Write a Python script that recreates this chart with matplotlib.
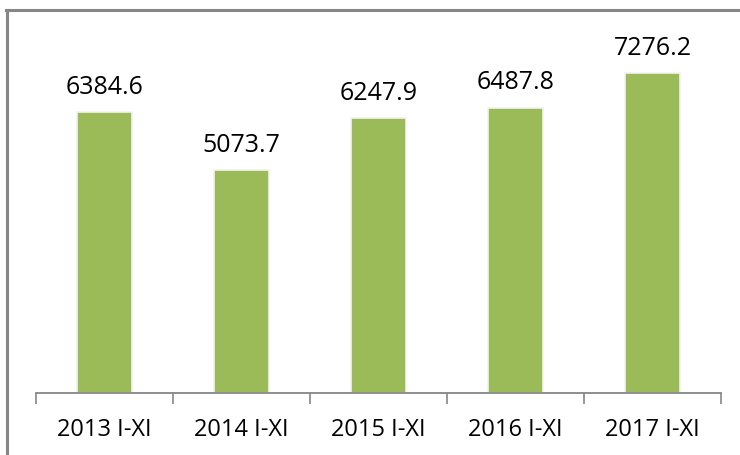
import matplotlib.pyplot as plt
import numpy as np

categories = ['2013 I-XI', '2014 I-XI', '2015 I-XI', '2016 I-XI', '2017 I-XI']
values = [6384.6, 5073.7, 6247.9, 6487.8, 7276.2]

plt.rcParams['font.family'] = ['Open Sans', 'DejaVu Sans']

fig = plt.figure(figsize=(7.4, 4.55), dpi=100)
ax = fig.add_axes([36 / 740, 62 / 455, 685 / 740, 352 / 455])

x = np.arange(len(categories))
ax.bar(x, values, width=0.4, color='#9BBB59', edgecolor='#f2f2f2', linewidth=1.2)
for xi, v in zip(x, values):
    ax.text(xi, v + 560, f'{v:.1f}', ha='center', va='center', fontsize=18)

ax.set_xlim(-0.5, len(categories) - 0.5)
ax.set_ylim(0, 8000)
ax.set_yticks([])
ax.set_xticks(x)
ax.set_xticklabels(categories, fontsize=17)
ax.tick_params(axis='x', length=0, pad=18)
ax.set_xticks(np.arange(-0.5, len(categories)), minor=True)
ax.tick_params(axis='x', which='minor', length=8, color='#868686', width=1.2)
for s in ['top', 'right', 'left']:
    ax.spines[s].set_visible(False)
ax.spines['bottom'].set_color('#868686')
ax.spines['bottom'].set_linewidth(1.3)

# chart frame: only the left and top edges fall inside the image
fig.add_artist(plt.Line2D([7 / 740, 7 / 740], [0, 445 / 455],
                          color='#868686', linewidth=2.2, transform=fig.transFigure))
fig.add_artist(plt.Line2D([6 / 740, 1], [445 / 455, 445 / 455],
                          color='#868686', linewidth=2.2, transform=fig.transFigure))

fig.savefig('out.png', dpi=100)
